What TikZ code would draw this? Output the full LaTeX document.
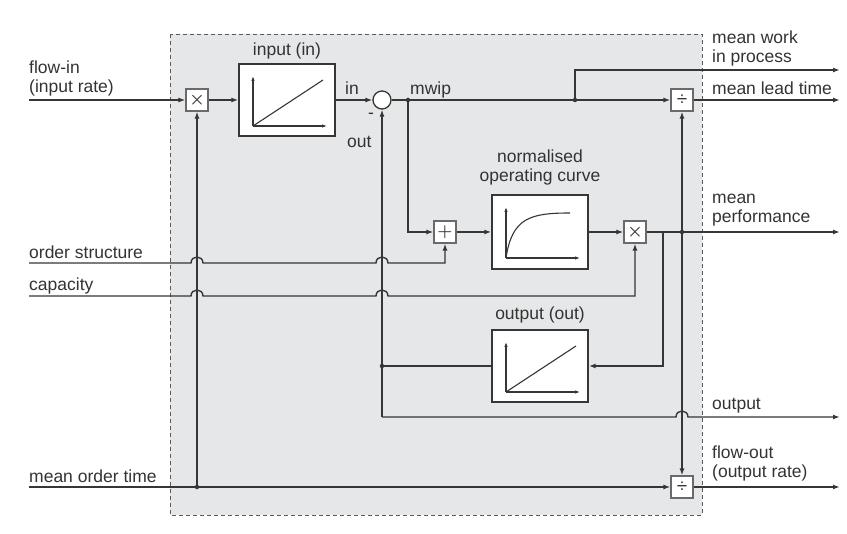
\documentclass[tikz,border=0pt]{standalone}
\usepackage{fontspec}
\setmainfont{Liberation Sans}
\usetikzlibrary{arrows.meta,calc}
\definecolor{lineGray}{HTML}{363636}
\definecolor{frameGray}{HTML}{5A5A5A}
\definecolor{panelGray}{HTML}{E6E7E8}
\definecolor{opGray}{HTML}{6A6A6A}
\definecolor{textGray}{HTML}{333333}

\begin{document}
\begin{tikzpicture}[x=1pt, y=-1pt,
    block/.style={draw=lineGray, fill=white, line width=1.4pt, minimum width=96pt, minimum height=72pt, inner sep=0pt},
    op/.style={draw=opGray, fill=white, line width=1.1pt, minimum size=22pt, inner sep=0pt, font=\fontsize{19}{19}\selectfont\boldmath, text=lineGray},
    sumpt/.style={circle, draw=lineGray, fill=white, line width=1.3pt, minimum size=18pt, inner sep=0pt},
    sig/.style={draw=lineGray, line width=1.4pt},
    arrow/.style={sig, -{Latex[length=7pt, width=5pt]}},
    graphaxis/.style={draw=lineGray, line width=1.1pt, -{Latex[length=5pt, width=3.5pt]}},
    sigtext/.style={font=\fontsize{17.5}{19}\selectfont, text=textGray, inner sep=0pt, align=left},
    dot/.style={circle, fill=lineGray, inner sep=0pt, minimum size=4.5pt}
  ]
  \useasboundingbox (0,0) rectangle (847,534);

  % model boundary
  \fill[panelGray] (170,34) rectangle (702,515);
  \draw[frameGray, line width=0.9pt, dash pattern=on 4pt off 3pt] (170,34) rectangle (702,515);

  % blocks and operators
  \node[op] (mulIn) at (197,100) {$\times$};
  \node[block] (inBlk) at (287,100) {};
  \node[sumpt] (sub) at (382,100) {};
  \node[op] (divLT) at (682,100) {÷};
  \node[op] (add) at (445,232) {$+$};
  \node[block, minimum height=74pt] (curveBlk) at (540,232) {};
  \node[op] (mulPerf) at (635,232) {$\times$};
  \node[block] (outBlk) at (540,366) {};
  \node[op] (divFO) at (682,487) {÷};

  % small graphs inside the blocks
  \foreach \blk in {inBlk,outBlk} {
    \draw[graphaxis] ($(\blk)+(-34,26)$) -- ($(\blk)+(-34,-24)$);
    \draw[graphaxis] ($(\blk)+(-34,26)$) -- ($(\blk)+(40,26)$);
    \draw[lineGray, line width=1.1pt] ($(\blk)+(-34,26)$) -- ($(\blk)+(36,-20)$);
  }
  \draw[graphaxis] ($(curveBlk)+(-34,26)$) -- ($(curveBlk)+(-34,-25)$);
  \draw[graphaxis] ($(curveBlk)+(-34,26)$) -- ($(curveBlk)+(40,26)$);
  \draw[lineGray, line width=1.1pt] ($(curveBlk)+(-34,26)$) .. controls ($(curveBlk)+(-28,-14)$) and ($(curveBlk)+(-10,-19)$) .. ($(curveBlk)+(30,-19)$);

  % inputs, outputs and junctions
  \coordinate (fin) at (29,100);
  \coordinate (osIn) at (29,263);
  \coordinate (capIn) at (29,296);
  \coordinate (motIn) at (29,487);
  \coordinate (mwipOut) at (840,70);
  \coordinate (mltOut) at (840,100);
  \coordinate (perfOut) at (840,232);
  \coordinate (outOut) at (840,417);
  \coordinate (foOut) at (840,487);
  \coordinate (jPerfA) at (663,232);
  \coordinate (cOut) at (382,417);
  \node[dot] (jMwip) at (408,100) {};
  \node[dot] (jWip) at (575,100) {};
  \node[dot] (jPerfB) at (682,232) {};
  \node[dot] (jOut) at (382,366) {};
  \node[dot] (jMot) at (197,487) {};

  % labels
  \node[sigtext, anchor=south west] (tFlowIn) at (29,96) {flow-in\\(input rate)};
  \node[sigtext, anchor=base west] (tOrder) at (29,259) {order structure};
  \node[sigtext, anchor=base west] (tCap) at (29,291) {capacity};
  \node[sigtext, anchor=base west] (tMot) at (29,483) {mean order time};
  \node[sigtext, anchor=base west] (tIn) at (345,95) {in};
  \node[sigtext, anchor=base west] (tMwip) at (410,95) {mwip};
  \node[sigtext, anchor=base west] (tOut) at (347,148) {out};
  \node[sigtext] (tMinus) at (371,116) {-};
  \node[sigtext, anchor=base] (tInput) at (287,56) {input (in)};
  \node[sigtext, anchor=south, align=center] (tCurve) at (540,185) {normalised\\operating curve};
  \node[sigtext, anchor=base] (tOutput) at (540,320) {output (out)};
  \node[sigtext, anchor=south west] (tWip) at (712,66) {mean work\\in process};
  \node[sigtext, anchor=base west] (tLead) at (712,95) {mean lead time};
  \node[sigtext, anchor=south west] (tPerf) at (712,226) {mean\\performance};
  \node[sigtext, anchor=base west] (tOutSig) at (712,410) {output};
  \node[sigtext, anchor=south west] (tFlowOut) at (712,481) {flow-out\\(output rate)};

  % connectors
  \draw[arrow] (fin) -- (mulIn.west);
  \draw[arrow] (mulIn.east) -- (inBlk.west);
  \draw[arrow] (inBlk.east) -- (sub.west);
  \draw[arrow] (sub.east) -- (divLT.west);
  \draw[arrow] (divLT.east) -- (mltOut);
  \draw[arrow] (jWip) |- (mwipOut);
  \draw[arrow] (jMwip) |- (add.west);
  \draw[arrow] (add.east) -- (curveBlk.west);
  \draw[arrow] (curveBlk.east) -- (mulPerf.west);
  \draw[arrow] (mulPerf.east) -- (perfOut);
  \draw[arrow] (jPerfA) |- (outBlk.east);
  \draw[arrow] (jPerfB) -- (divLT.south);
  \draw[arrow] (jPerfB) -- (divFO.north);
  \draw[sig] (outBlk.west) -- (jOut);
  \draw[arrow] (cOut) -- (sub.south);
  \draw[arrow] (cOut) -- ($(divLT|-cOut)+(-6,0)$) .. controls +(0,-8) and +(0,-8) .. ($(divLT|-cOut)+(6,0)$) -- (outOut);
  \draw[arrow] (osIn) -- ($(mulIn|-osIn)+(-6,0)$) .. controls +(0,-8) and +(0,-8) .. ($(mulIn|-osIn)+(6,0)$)
    -- ($(sub|-osIn)+(-6,0)$) .. controls +(0,-8) and +(0,-8) .. ($(sub|-osIn)+(6,0)$) -| (add.south);
  \draw[arrow] (capIn) -- ($(mulIn|-capIn)+(-6,0)$) .. controls +(0,-8) and +(0,-8) .. ($(mulIn|-capIn)+(6,0)$)
    -- ($(sub|-capIn)+(-6,0)$) .. controls +(0,-8) and +(0,-8) .. ($(sub|-capIn)+(6,0)$) -| (mulPerf.south);
  \draw[arrow] (motIn) -- (divFO.west);
  \draw[arrow] (jMot) -- (mulIn.south);
  \draw[arrow] (divFO.east) -- (foOut);
\end{tikzpicture}
\end{document}
